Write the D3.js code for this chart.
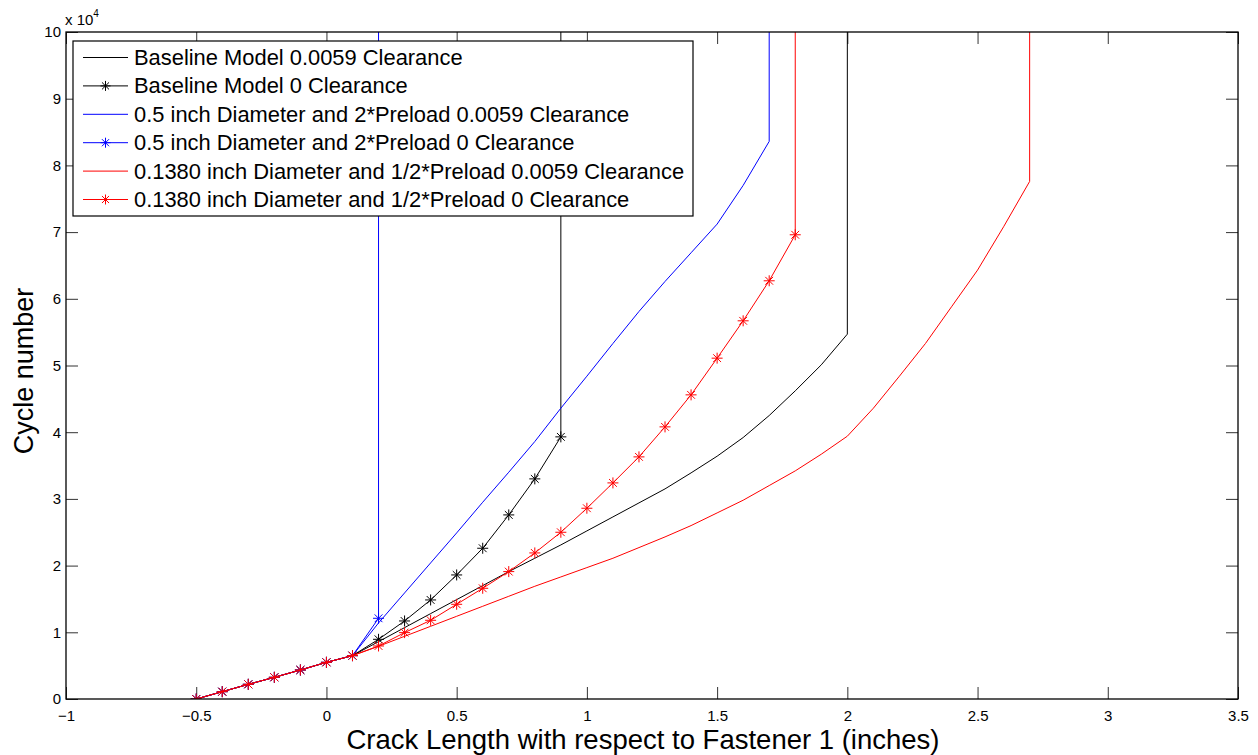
<!DOCTYPE html>
<html>
<head>
<meta charset="utf-8">
<script src="https://cdn.jsdelivr.net/npm/d3@7"></script>
<style>
  html, body { margin: 0; padding: 0; background: #fff; }
  svg { display: block; font-family: "Liberation Sans", Arial, Helvetica, sans-serif; }
</style>
</head>
<body>
<svg id="chart" width="1258" height="755"></svg>
<script>
// Crack length (inches) and cycle counts for each configuration.
// The last entry of every series marks the failure (runs off the top of the axes).
const baseClrX   = [-0.5,-0.4,-0.3,-0.2,-0.1,0,0.1,0.2,0.3,0.4,0.5,0.6,0.7,0.8,0.9,1.0,1.1,1.2,1.3,1.4,1.5,1.6,1.7,1.8,1.9,2.0,2.0];
const baseClrY   = [0,1100,2200,3250,4350,5500,6500,8600,10700,12800,14900,17000,19100,21100,23100,25200,27300,29400,31500,33900,36400,39200,42500,46200,50100,54700,150000];

const baseZeroX  = [-0.5,-0.4,-0.3,-0.2,-0.1,0,0.1,0.2,0.3,0.4,0.5,0.6,0.7,0.8,0.9,0.9];
const baseZeroY  = [0,1100,2200,3250,4350,5500,6500,8950,11700,14850,18600,22600,27600,33000,39300,150000];

const halfClrX   = [-0.5,-0.4,-0.3,-0.2,-0.1,0,0.1,0.2,0.3,0.4,0.5,0.6,0.7,0.8,0.9,1.0,1.1,1.2,1.3,1.4,1.5,1.6,1.7,1.7];
const halfClrY   = [0,1100,2200,3250,4350,5500,6500,11400,15900,20400,24900,29500,34000,38600,43600,48400,53300,58100,62600,66900,71200,77000,83600,150000];

const halfZeroX  = [-0.5,-0.4,-0.3,-0.2,-0.1,0,0.1,0.2,0.2];
const halfZeroY  = [0,1100,2200,3250,4350,5500,6500,12100,150000];

const smallClrX  = [-0.5,-0.4,-0.3,-0.2,-0.1,0,0.1,0.2,0.3,0.4,0.5,0.6,0.7,0.8,0.9,1.0,1.1,1.2,1.3,1.4,1.5,1.6,1.7,1.8,1.9,2.0,2.1,2.2,2.3,2.4,2.5,2.6,2.7,2.7];
const smallClrY  = [0,1100,2200,3250,4350,5500,6500,7900,9400,10900,12400,13900,15400,16900,18300,19700,21100,22700,24300,26000,27900,29800,32000,34200,36700,39400,43600,48400,53300,58800,64300,70800,77600,150000];

const smallZeroX = [-0.5,-0.4,-0.3,-0.2,-0.1,0,0.1,0.2,0.3,0.4,0.5,0.6,0.7,0.8,0.9,1.0,1.1,1.2,1.3,1.4,1.5,1.6,1.7,1.8,1.8];
const smallZeroY = [0,1100,2200,3250,4350,5500,6500,7950,9950,11800,14200,16600,19100,21900,25000,28600,32400,36300,40800,45600,51100,56700,62700,69600,150000];

const seriesNames = [
  "Baseline Model 0.0059 Clearance",
  "Baseline Model 0 Clearance",
  "0.5 inch Diameter and 2*Preload 0.0059 Clearance",
  "0.5 inch Diameter and 2*Preload 0 Clearance",
  "0.1380 inch Diameter and 1/2*Preload 0.0059 Clearance",
  "0.1380 inch Diameter and 1/2*Preload 0 Clearance"
];
const seriesColors  = ["#000000","#000000","#0000ff","#0000ff","#ff0000","#ff0000"];
const seriesMarkers = [false, true, false, true, false, true];
const seriesX = [baseClrX, baseZeroX, halfClrX, halfZeroX, smallClrX, smallZeroX];
const seriesY = [baseClrY, baseZeroY, halfClrY, halfZeroY, smallClrY, smallZeroY];

const xTicks = [-1,-0.5,0,0.5,1,1.5,2,2.5,3,3.5];
const yTicks = [0,10000,20000,30000,40000,50000,60000,70000,80000,90000,100000];

const xTitle = "Crack Length with respect to Fastener 1 (inches)";
const yTitle = "Cycle number";

// ---- layout ----
const svg = d3.select("#chart");
const plotL = 66, plotR = 1238, plotT = 32, plotB = 699;
const x = d3.scaleLinear().domain([-1, 3.5]).range([plotL, plotR]);
const y = d3.scaleLinear().domain([0, 100000]).range([plotB, plotT]);
const tickLen = 12;
const tickFont = 15;

svg.append("defs").append("clipPath").attr("id", "plotClip")
  .append("rect").attr("x", plotL).attr("y", plotT)
  .attr("width", plotR - plotL).attr("height", plotB - plotT);

// Inward ticks on all four sides (MATLAB box style)
const axG = svg.append("g");
axG.append("g").attr("transform", `translate(0,${plotB})`)
  .call(d3.axisBottom(x).tickValues(xTicks).tickSize(-tickLen).tickPadding(11.5)
        .tickFormat(d => d3.format("")(d)))
  .call(g => g.select(".domain").remove())
  .call(g => g.selectAll("text").attr("font-size", tickFont).attr("fill", "#000")
        .attr("font-family", "'Liberation Sans', Arial, sans-serif"));
axG.append("g").attr("transform", `translate(0,${plotT})`)
  .call(d3.axisTop(x).tickValues(xTicks).tickSize(-tickLen).tickFormat(""))
  .call(g => g.select(".domain").remove());
axG.append("g").attr("transform", `translate(${plotL},0)`)
  .call(d3.axisLeft(y).tickValues(yTicks).tickSize(-tickLen).tickPadding(5)
        .tickFormat(d => d / 10000))
  .call(g => g.select(".domain").remove())
  .call(g => g.selectAll("text").attr("font-size", tickFont).attr("fill", "#000")
        .attr("font-family", "'Liberation Sans', Arial, sans-serif"));
axG.append("g").attr("transform", `translate(${plotR},0)`)
  .call(d3.axisRight(y).tickValues(yTicks).tickSize(-tickLen).tickFormat(""))
  .call(g => g.select(".domain").remove());
axG.selectAll(".tick line").attr("stroke", "#333").attr("stroke-width", 1);

// ---- data lines ----
const plot = svg.append("g").attr("clip-path", "url(#plotClip)");
const line = d3.line().x(d => x(d[0])).y(d => y(d[1]));

// 8-armed asterisk marker
function asterisk(cx, cy, r) {
  const p = d3.path();
  const d = r * Math.SQRT1_2;
  p.moveTo(cx - r, cy); p.lineTo(cx + r, cy);
  p.moveTo(cx, cy - r); p.lineTo(cx, cy + r);
  p.moveTo(cx - d, cy - d); p.lineTo(cx + d, cy + d);
  p.moveTo(cx - d, cy + d); p.lineTo(cx + d, cy - d);
  return p.toString();
}

seriesNames.forEach((name, i) => {
  const pts = d3.zip(seriesX[i], seriesY[i]);
  plot.append("path").datum(pts)
    .attr("fill", "none").attr("stroke", seriesColors[i]).attr("stroke-width", 1)
    .attr("d", line);
  if (seriesMarkers[i]) {
    plot.append("g").selectAll("path").data(pts).join("path")
      .attr("d", d => asterisk(x(d[0]), y(d[1]), 5.5))
      .attr("fill", "none").attr("stroke", seriesColors[i]).attr("stroke-width", 1);
  }
});

// axes box
svg.append("rect").attr("x", plotL).attr("y", plotT)
  .attr("width", plotR - plotL).attr("height", plotB - plotT)
  .attr("fill", "none").attr("stroke", "#000").attr("stroke-width", 1.3);

// exponent label
const expo = svg.append("text").attr("x", 65).attr("y", 25)
  .attr("font-size", 15).attr("fill", "#000");
expo.append("tspan").text("x 10");
expo.append("tspan").attr("dy", -8).attr("font-size", 10).text("4");

// axis titles
svg.append("text").attr("x", 643).attr("y", 749).attr("text-anchor", "middle")
  .attr("font-size", 27.5).attr("fill", "#000").text(xTitle);
svg.append("text").attr("transform", "translate(33,371) rotate(-90)")
  .attr("text-anchor", "middle").attr("font-size", 27).attr("fill", "#000").text(yTitle);

// ---- legend ----
const lg = svg.append("g");
lg.append("rect").attr("x", 73).attr("y", 41).attr("width", 620).attr("height", 175)
  .attr("fill", "#fff").attr("stroke", "#000").attr("stroke-width", 1.2);
const rowY = d3.scaleLinear().domain([0, 5]).range([57.5, 199.5]);
seriesNames.forEach((name, i) => {
  const cy = rowY(i);
  lg.append("line").attr("x1", 83).attr("x2", 128).attr("y1", cy).attr("y2", cy)
    .attr("stroke", seriesColors[i]).attr("stroke-width", 1);
  if (seriesMarkers[i]) {
    lg.append("path").attr("d", asterisk(105.5, cy, 5))
      .attr("fill", "none").attr("stroke", seriesColors[i]).attr("stroke-width", 1);
  }
  lg.append("text").attr("x", 134).attr("y", cy + 7.5)
    .attr("font-size", 21.9).attr("fill", "#000").text(name);
});
</script>
</body>
</html>
